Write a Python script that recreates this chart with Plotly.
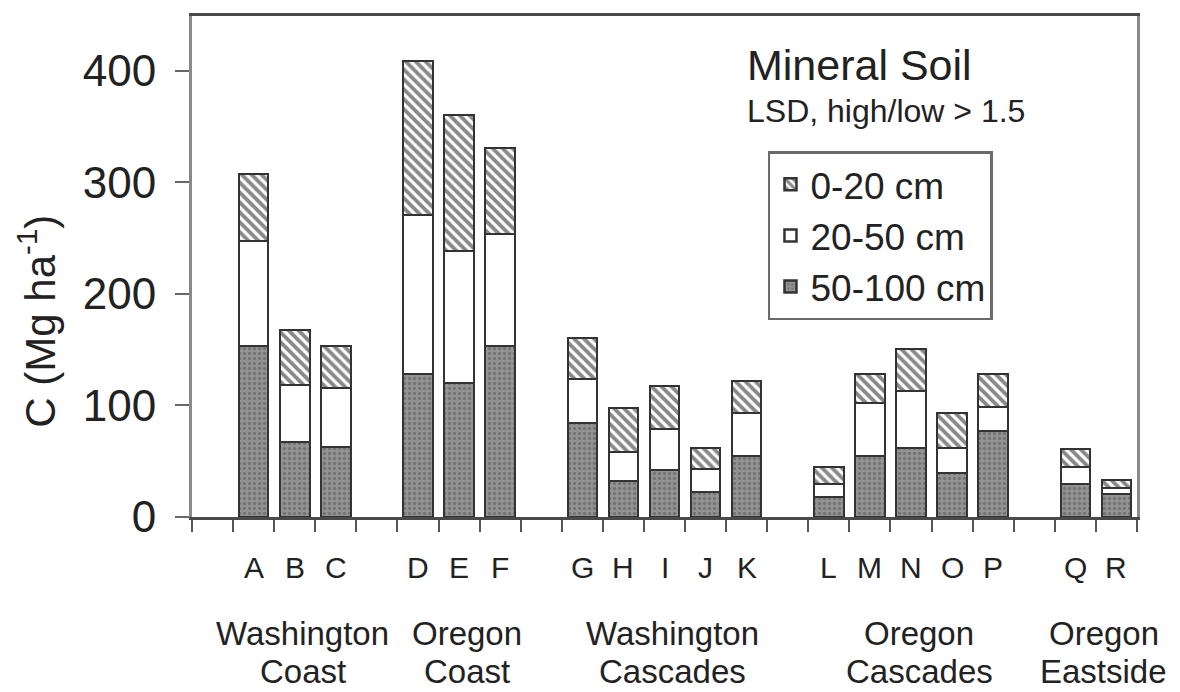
import plotly.graph_objects as go

# ---- data ----
site_labels = ["A", "B", "C", "D", "E", "F", "G", "H", "I", "J", "K",
               "L", "M", "N", "O", "P", "Q", "R"]
site_group = [0, 0, 0, 1, 1, 1, 2, 2, 2, 2, 2, 3, 3, 3, 3, 3, 4, 4]
group_line1 = ["Washington", "Oregon", "Washington", "Oregon", "Oregon"]
group_line2 = ["Coast", "Coast", "Cascades", "Cascades", "Eastside"]

depth_50_100 = [153, 67, 63, 128, 120, 153, 84, 32, 42, 22, 55, 18, 55, 62, 39, 77, 30, 21]
depth_20_50 = [94, 51, 53, 143, 118, 101, 40, 26, 37, 21, 38, 12, 47, 51, 23, 22, 15, 5]
depth_0_20 = [60, 50, 37, 138, 122, 77, 36, 40, 38, 19, 29, 15, 26, 38, 31, 29, 16, 7]

y_ticks = [0, 100, 200, 300, 400]

# ---- slot layout: one empty slot before each group ----
pos = []
slot = 0
prev = None
for g in site_group:
    if g != prev:
        slot += 1
        prev = g
    pos.append(slot + 0.5)
    slot += 1
n_slots = slot

FONT = "Liberation Sans, Arial, sans-serif"
edge = dict(color="#333333", width=2.5)

fig = go.Figure()
fig.add_trace(go.Bar(
    x=pos, y=depth_50_100, name="50-100 cm", width=0.72,
    marker=dict(color="#858585", line=edge,
                pattern=dict(shape=".", fgcolor="#555555", bgcolor="#939393",
                             size=5, solidity=0.35)),
))
fig.add_trace(go.Bar(
    x=pos, y=depth_20_50, name="20-50 cm", width=0.72,
    marker=dict(color="white", line=edge),
))
fig.add_trace(go.Bar(
    x=pos, y=depth_0_20, name="0-20 cm", width=0.72,
    marker=dict(color="white", line=edge,
                pattern=dict(shape="\\", fgcolor="#111111", bgcolor="white",
                             size=7, solidity=0.55)),
))

annotations = []
for p, lab in zip(pos, site_labels):
    annotations.append(dict(x=p, y=-0.101, xref="x", yref="paper", text=lab,
                            showarrow=False, font=dict(size=30, color="#222", family=FONT),
                            xanchor="center", yanchor="middle"))
for gi in range(len(group_line1)):
    gp = [p for p, g in zip(pos, site_group) if g == gi]
    cx = sum(gp) / len(gp)
    annotations.append(dict(x=cx, y=-0.232, xref="x", yref="paper",
                            text=group_line1[gi], showarrow=False, xshift=8,
                            font=dict(size=33, color="#222", family=FONT),
                            xanchor="center", yanchor="middle"))
    annotations.append(dict(x=cx, y=-0.308, xref="x", yref="paper",
                            text=group_line2[gi], showarrow=False, xshift=8,
                            font=dict(size=33, color="#222", family=FONT),
                            xanchor="center", yanchor="middle"))
annotations.append(dict(x=-0.164, y=0.39, xref="paper", yref="paper",
                        text="C (Mg ha<sup>-1</sup>)", textangle=-90, showarrow=False,
                        font=dict(size=42, color="#222", family=FONT),
                        xanchor="center", yanchor="middle"))
annotations.append(dict(x=0.585, y=0.902, xref="paper", yref="paper",
                        text="Mineral Soil", showarrow=False,
                        font=dict(size=43, color="#222", family=FONT),
                        xanchor="left", yanchor="middle"))
annotations.append(dict(x=0.585, y=0.81, xref="paper", yref="paper",
                        text="LSD, high/low > 1.5", showarrow=False,
                        font=dict(size=32, color="#222", family=FONT),
                        xanchor="left", yanchor="middle"))

# page body adds an 8px margin, so the figure is 8px smaller than the window
fig.update_layout(
    width=1172, height=684,
    margin=dict(l=184, r=43, t=5, b=175),
    paper_bgcolor="white", plot_bgcolor="white",
    barmode="stack", bargap=0,
    font=dict(family=FONT, color="#222"),
    showlegend=True,
    legend=dict(x=0.6095, y=0.730, xanchor="left", yanchor="top",
                traceorder="reversed", bordercolor="#6a6a6a", borderwidth=2.5,
                bgcolor="white", font=dict(size=37, family=FONT, color="#222"),
                itemwidth=30, tracegroupgap=0),
    annotations=annotations,
    xaxis=dict(range=[0, n_slots], tickmode="array",
               tickvals=list(range(0, n_slots + 1)),
               showticklabels=False,
               ticks="outside", ticklen=12, tickwidth=2, tickcolor="#555",
               showline=True, linecolor="#4a4a4a", linewidth=3, mirror=True,
               showgrid=False, zeroline=False, fixedrange=True),
    yaxis=dict(range=[0, 449], tickmode="array", tickvals=y_ticks,
               ticks="outside", ticklen=14, tickwidth=2, tickcolor="#666",
               showline=True, linecolor="#8a8a8a", linewidth=3, mirror=True,
               showgrid=False, zeroline=False,
               tickfont=dict(size=44, family=FONT, color="#222"),
               ticklabelstandoff=10),
)

fig.write_html("out.html")
